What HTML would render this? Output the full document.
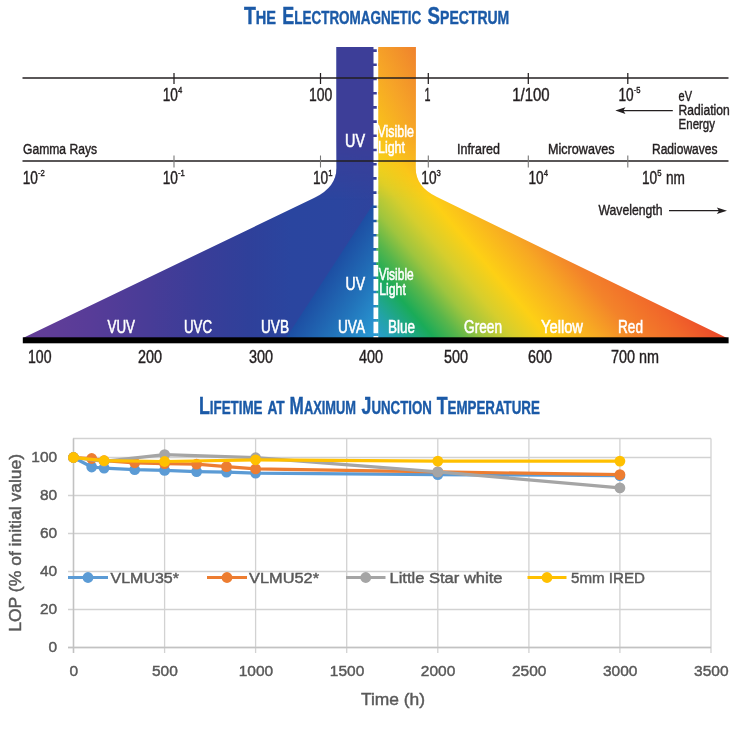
<!DOCTYPE html>
<html lang="en"><head><meta charset="utf-8"><title>Electromagnetic Spectrum</title>
<style>html,body{margin:0;padding:0;background:#fff;font-family:"Liberation Sans",sans-serif}svg{display:block;filter:blur(0.45px)}</style></head>
<body>
<svg width="750" height="734" viewBox="0 0 750 734" font-family="Liberation Sans, sans-serif">
<defs>
<linearGradient id="gR" gradientUnits="userSpaceOnUse" x1="375" y1="338" x2="607.2" y2="140.6">
<stop offset="0" stop-color="#2a9bd2"/>
<stop offset="0.0625" stop-color="#22a3a8"/>
<stop offset="0.1475" stop-color="#1aab58"/>
<stop offset="0.2125" stop-color="#58b64b"/>
<stop offset="0.275" stop-color="#9fc53e"/>
<stop offset="0.35" stop-color="#d6ce2d"/>
<stop offset="0.435" stop-color="#fdd015"/>
<stop offset="0.5625" stop-color="#f7a823"/>
<stop offset="0.655" stop-color="#f3832a"/>
<stop offset="0.775" stop-color="#f1672a"/>
<stop offset="0.8825" stop-color="#eb472a"/>
</linearGradient>
<linearGradient id="gL" gradientUnits="userSpaceOnUse" x1="22" y1="0" x2="376" y2="0">
<stop offset="0" stop-color="#653e98"/>
<stop offset="0.19" stop-color="#583c98"/>
<stop offset="0.36" stop-color="#483c97"/>
<stop offset="0.50" stop-color="#3a3d98"/>
<stop offset="0.64" stop-color="#2f409a"/>
<stop offset="0.76" stop-color="#2a459f"/>
<stop offset="0.9" stop-color="#2b459f"/>
<stop offset="1" stop-color="#2f439d"/>
</linearGradient>
<linearGradient id="gT" gradientUnits="userSpaceOnUse" x1="329" y1="272" x2="392" y2="313">
<stop offset="0" stop-color="#1d4ea3"/>
<stop offset="0.5" stop-color="#2273ba"/>
<stop offset="1" stop-color="#2a9dd6"/>
</linearGradient>
<linearGradient id="gN" gradientUnits="userSpaceOnUse" x1="378" y1="165" x2="463.6" y2="121.5">
<stop offset="0" stop-color="#fad015"/>
<stop offset="0.5" stop-color="#f6a527"/>
<stop offset="1" stop-color="#ee7b2e"/>
</linearGradient>
<linearGradient id="gM" gradientUnits="userSpaceOnUse" x1="0" y1="140" x2="0" y2="200">
<stop offset="0" stop-color="#fff"/>
<stop offset="1" stop-color="#000"/>
</linearGradient>
<linearGradient id="gS" gradientUnits="userSpaceOnUse" x1="0" y1="185" x2="0" y2="255">
<stop offset="0" stop-color="#000"/>
<stop offset="1" stop-color="#fff"/>
</linearGradient>
<mask id="mS" maskUnits="userSpaceOnUse" x="370" y="180" width="12" height="165"><rect x="370" y="180" width="12" height="165" fill="url(#gS)"/></mask>
<mask id="mL" maskUnits="userSpaceOnUse" x="280" y="40" width="100" height="190"><rect x="280" y="40" width="100" height="190" fill="url(#gM)"/></mask>
<mask id="mN" maskUnits="userSpaceOnUse" x="370" y="40" width="120" height="180"><rect x="370" y="40" width="120" height="180" fill="url(#gM)"/></mask>
</defs>
<rect width="750" height="734" fill="#fff"/>

<path d="M336.5,47 L376.5,47 L376.5,340 L23,340 L23,338 L315,197.5 Q336.5,187 336.5,168 Z" fill="url(#gL)"/>
<path d="M336.5,47 L376.5,47 L376.5,225 L280,225 L315,197 Q336.5,187 336.5,168 Z" fill="#3d3e98" mask="url(#mL)"/>
<path d="M376.5,199 L376.5,338 L286,338 Z" fill="url(#gT)"/>
<path d="M378.2,47 L415.7,47 L415.7,168 Q415.7,187 437,197 L727,338 L727,340 L378.2,340 Z" fill="url(#gR)"/>
<path d="M378.2,47 L415.7,47 L415.7,168 Q415.7,187 437,197 L480,218 L378.2,218 Z" fill="url(#gN)" mask="url(#mN)"/>
<rect x="376.3" y="185" width="2.2" height="153" fill="url(#gR)" mask="url(#mS)"/>
<line x1="375.85" y1="47" x2="375.85" y2="338" stroke="#fff" stroke-width="4.7" stroke-dasharray="11.6 2.6" stroke-dashoffset="9.3"/>
<rect x="22.8" y="337.3" width="705.8" height="6" fill="#000"/>
<line x1="22.5" y1="77.9" x2="728.5" y2="77.9" stroke="#231f20" stroke-width="1.45"/>
<line x1="22.5" y1="161" x2="728.5" y2="161" stroke="#231f20" stroke-width="1.45"/>
<line x1="174" y1="73" x2="174" y2="84" stroke="#231f20" stroke-width="1.25"/>
<line x1="320.5" y1="73" x2="320.5" y2="84" stroke="#231f20" stroke-width="1.25"/>
<line x1="428.3" y1="73" x2="428.3" y2="84" stroke="#231f20" stroke-width="1.25"/>
<line x1="528.3" y1="73" x2="528.3" y2="84" stroke="#231f20" stroke-width="1.25"/>
<line x1="627.8" y1="73" x2="627.8" y2="84" stroke="#231f20" stroke-width="1.25"/>
<line x1="174" y1="155.5" x2="174" y2="167.5" stroke="#777" stroke-width="1.1"/>
<line x1="320.5" y1="155.5" x2="320.5" y2="167.5" stroke="#777" stroke-width="1.1"/>
<line x1="428.3" y1="155.5" x2="428.3" y2="167.5" stroke="#777" stroke-width="1.1"/>
<line x1="528.3" y1="155.5" x2="528.3" y2="167.5" stroke="#777" stroke-width="1.1"/>
<line x1="627.8" y1="155.5" x2="627.8" y2="167.5" stroke="#777" stroke-width="1.1"/>
<text x="243.9" y="24.2" font-weight="bold" fill="#1b5aa7" stroke="#1b5aa7" stroke-width="0.4" textLength="32.1" lengthAdjust="spacingAndGlyphs"><tspan font-size="24">T</tspan><tspan font-size="18">HE</tspan></text>
<text x="282.3" y="24.2" font-weight="bold" fill="#1b5aa7" stroke="#1b5aa7" stroke-width="0.4" textLength="139.0" lengthAdjust="spacingAndGlyphs"><tspan font-size="24">E</tspan><tspan font-size="18">LECTROMAGNETIC</tspan></text>
<text x="427.6" y="24.2" font-weight="bold" fill="#1b5aa7" stroke="#1b5aa7" stroke-width="0.4" textLength="81.7" lengthAdjust="spacingAndGlyphs"><tspan font-size="24">S</tspan><tspan font-size="18">PECTRUM</tspan></text>
<text x="162.7" y="100.7" font-size="17.5" fill="#231f20" text-anchor="start" font-weight="normal" textLength="15.2" lengthAdjust="spacingAndGlyphs"  stroke="#231f20" stroke-width="0.42">10</text>
<text x="178.0" y="93.3" font-size="9.8" fill="#231f20" text-anchor="start" font-weight="normal" textLength="4.3" lengthAdjust="spacingAndGlyphs"  stroke="#231f20" stroke-width="0.42">4</text>
<text x="309" y="100.7" font-size="17.5" fill="#231f20" text-anchor="start" font-weight="normal" textLength="23.3" lengthAdjust="spacingAndGlyphs"  stroke="#231f20" stroke-width="0.42">100</text>
<text x="424.5" y="100.7" font-size="17.5" fill="#231f20" text-anchor="start" font-weight="normal" textLength="6" lengthAdjust="spacingAndGlyphs"  stroke="#231f20" stroke-width="0.42">1</text>
<text x="512.2" y="100.7" font-size="17.5" fill="#231f20" text-anchor="start" font-weight="normal" textLength="37.4" lengthAdjust="spacingAndGlyphs"  stroke="#231f20" stroke-width="0.42">1/100</text>
<text x="618.4" y="100.7" font-size="17.5" fill="#231f20" text-anchor="start" font-weight="normal" textLength="15.2" lengthAdjust="spacingAndGlyphs"  stroke="#231f20" stroke-width="0.42">10</text>
<text x="633.7" y="93.3" font-size="9.8" fill="#231f20" text-anchor="start" font-weight="normal" textLength="6.8" lengthAdjust="spacingAndGlyphs"  stroke="#231f20" stroke-width="0.42">-5</text>
<text x="678.6" y="101" font-size="14" fill="#231f20" text-anchor="start" font-weight="normal" textLength="13.4" lengthAdjust="spacingAndGlyphs"  stroke="#231f20" stroke-width="0.42">eV</text>
<text x="678.6" y="115" font-size="14" fill="#231f20" text-anchor="start" font-weight="normal" textLength="51" lengthAdjust="spacingAndGlyphs"  stroke="#231f20" stroke-width="0.42">Radiation</text>
<text x="678.6" y="128.8" font-size="14" fill="#231f20" text-anchor="start" font-weight="normal" textLength="36.4" lengthAdjust="spacingAndGlyphs"  stroke="#231f20" stroke-width="0.42">Energy</text>
<line x1="622" y1="110.6" x2="672.8" y2="110.6" stroke="#231f20" stroke-width="1.2"/><path d="M615.3,110.6 L625.5,107.3 L623.3,110.6 L625.5,113.9 Z" fill="#231f20"/>
<text x="23" y="153.5" font-size="14" fill="#231f20" text-anchor="start" font-weight="normal" textLength="74" lengthAdjust="spacingAndGlyphs"  stroke="#231f20" stroke-width="0.42">Gamma Rays</text>
<text x="457" y="154" font-size="14" fill="#231f20" text-anchor="start" font-weight="normal" textLength="43" lengthAdjust="spacingAndGlyphs"  stroke="#231f20" stroke-width="0.42">Infrared</text>
<text x="548" y="154" font-size="14" fill="#231f20" text-anchor="start" font-weight="normal" textLength="66.5" lengthAdjust="spacingAndGlyphs"  stroke="#231f20" stroke-width="0.42">Microwaves</text>
<text x="652" y="154" font-size="14" fill="#231f20" text-anchor="start" font-weight="normal" textLength="65.5" lengthAdjust="spacingAndGlyphs"  stroke="#231f20" stroke-width="0.42">Radiowaves</text>
<text x="22.7" y="183.5" font-size="17.5" fill="#231f20" text-anchor="start" font-weight="normal" textLength="15.2" lengthAdjust="spacingAndGlyphs"  stroke="#231f20" stroke-width="0.42">10</text>
<text x="38.0" y="176.1" font-size="9.8" fill="#231f20" text-anchor="start" font-weight="normal" textLength="6.8" lengthAdjust="spacingAndGlyphs"  stroke="#231f20" stroke-width="0.42">-2</text>
<text x="162.7" y="183.5" font-size="17.5" fill="#231f20" text-anchor="start" font-weight="normal" textLength="15.2" lengthAdjust="spacingAndGlyphs"  stroke="#231f20" stroke-width="0.42">10</text>
<text x="178.0" y="176.1" font-size="9.8" fill="#231f20" text-anchor="start" font-weight="normal" textLength="6.8" lengthAdjust="spacingAndGlyphs"  stroke="#231f20" stroke-width="0.42">-1</text>
<text x="313" y="183.5" font-size="17.5" fill="#231f20" text-anchor="start" font-weight="normal" textLength="15.2" lengthAdjust="spacingAndGlyphs"  stroke="#231f20" stroke-width="0.42">10</text>
<text x="328.3" y="176.1" font-size="9.8" fill="#231f20" text-anchor="start" font-weight="normal" textLength="4.3" lengthAdjust="spacingAndGlyphs"  stroke="#231f20" stroke-width="0.42">1</text>
<text x="421.3" y="183.5" font-size="17.5" fill="#231f20" text-anchor="start" font-weight="normal" textLength="15.2" lengthAdjust="spacingAndGlyphs"  stroke="#231f20" stroke-width="0.42">10</text>
<text x="436.6" y="176.1" font-size="9.8" fill="#231f20" text-anchor="start" font-weight="normal" textLength="4.3" lengthAdjust="spacingAndGlyphs"  stroke="#231f20" stroke-width="0.42">3</text>
<text x="528.5" y="183.5" font-size="17.5" fill="#231f20" text-anchor="start" font-weight="normal" textLength="15.2" lengthAdjust="spacingAndGlyphs"  stroke="#231f20" stroke-width="0.42">10</text>
<text x="543.8" y="176.1" font-size="9.8" fill="#231f20" text-anchor="start" font-weight="normal" textLength="4.3" lengthAdjust="spacingAndGlyphs"  stroke="#231f20" stroke-width="0.42">4</text>
<text x="642" y="183.5" font-size="17.5" fill="#231f20" text-anchor="start" font-weight="normal" textLength="15.2" lengthAdjust="spacingAndGlyphs"  stroke="#231f20" stroke-width="0.42">10</text>
<text x="657.3" y="176.1" font-size="9.8" fill="#231f20" text-anchor="start" font-weight="normal" textLength="4.3" lengthAdjust="spacingAndGlyphs"  stroke="#231f20" stroke-width="0.42">5</text>
<text x="665.9" y="183.5" font-size="17.5" fill="#231f20" text-anchor="start" font-weight="normal" textLength="19.0" lengthAdjust="spacingAndGlyphs"  stroke="#231f20" stroke-width="0.42">nm</text>
<text x="598.5" y="215" font-size="14.5" fill="#231f20" text-anchor="start" font-weight="normal" textLength="64" lengthAdjust="spacingAndGlyphs"  stroke="#231f20" stroke-width="0.42">Wavelength</text>
<line x1="669" y1="210.7" x2="720" y2="210.7" stroke="#231f20" stroke-width="1.2"/><path d="M727,210.7 L716.8,207.4 L719,210.7 L716.8,214 Z" fill="#231f20"/>
<text x="345" y="146.7" font-size="17.5" fill="#fff" text-anchor="start" font-weight="normal" textLength="20" lengthAdjust="spacingAndGlyphs"  stroke="#fff" stroke-width="0.55">UV</text>
<text x="377.5" y="137.3" font-size="17" fill="#fff" text-anchor="start" font-weight="normal" textLength="36.5" lengthAdjust="spacingAndGlyphs"  stroke="#fff" stroke-width="0.55">Visible</text>
<text x="378" y="152.7" font-size="17" fill="#fff" text-anchor="start" font-weight="normal" textLength="27" lengthAdjust="spacingAndGlyphs"  stroke="#fff" stroke-width="0.55">Light</text>
<text x="345.5" y="289.5" font-size="17.5" fill="#fff" text-anchor="start" font-weight="normal" textLength="19.5" lengthAdjust="spacingAndGlyphs"  stroke="#fff" stroke-width="0.55">UV</text>
<text x="378.7" y="279.7" font-size="17" fill="#fff" text-anchor="start" font-weight="normal" textLength="35" lengthAdjust="spacingAndGlyphs"  stroke="#fff" stroke-width="0.55">Visible</text>
<text x="379.3" y="295" font-size="17" fill="#fff" text-anchor="start" font-weight="normal" textLength="26.5" lengthAdjust="spacingAndGlyphs"  stroke="#fff" stroke-width="0.55">Light</text>
<text x="107.5" y="332.5" font-size="17.5" fill="#fff" text-anchor="start" font-weight="normal" textLength="27.5" lengthAdjust="spacingAndGlyphs"  stroke="#fff" stroke-width="0.55">VUV</text>
<text x="184" y="332.5" font-size="17.5" fill="#fff" text-anchor="start" font-weight="normal" textLength="28" lengthAdjust="spacingAndGlyphs"  stroke="#fff" stroke-width="0.55">UVC</text>
<text x="261" y="332.5" font-size="17.5" fill="#fff" text-anchor="start" font-weight="normal" textLength="28" lengthAdjust="spacingAndGlyphs"  stroke="#fff" stroke-width="0.55">UVB</text>
<text x="338" y="332.5" font-size="17.5" fill="#fff" text-anchor="start" font-weight="normal" textLength="27" lengthAdjust="spacingAndGlyphs"  stroke="#fff" stroke-width="0.55">UVA</text>
<text x="388" y="332.5" font-size="17.5" fill="#fff" text-anchor="start" font-weight="normal" textLength="27" lengthAdjust="spacingAndGlyphs"  stroke="#fff" stroke-width="0.55">Blue</text>
<text x="464" y="332.5" font-size="17.5" fill="#fff" text-anchor="start" font-weight="normal" textLength="38" lengthAdjust="spacingAndGlyphs"  stroke="#fff" stroke-width="0.55">Green</text>
<text x="541" y="332.5" font-size="17.5" fill="#fff" text-anchor="start" font-weight="normal" textLength="42" lengthAdjust="spacingAndGlyphs"  stroke="#fff" stroke-width="0.55">Yellow</text>
<text x="618" y="332.5" font-size="17.5" fill="#fff" text-anchor="start" font-weight="normal" textLength="25" lengthAdjust="spacingAndGlyphs"  stroke="#fff" stroke-width="0.55">Red</text>
<text x="28" y="363" font-size="17.5" fill="#231f20" text-anchor="start" font-weight="normal" textLength="23.5" lengthAdjust="spacingAndGlyphs"  stroke="#231f20" stroke-width="0.42">100</text>
<text x="138" y="363" font-size="17.5" fill="#231f20" text-anchor="start" font-weight="normal" textLength="24" lengthAdjust="spacingAndGlyphs"  stroke="#231f20" stroke-width="0.42">200</text>
<text x="249" y="363" font-size="17.5" fill="#231f20" text-anchor="start" font-weight="normal" textLength="24" lengthAdjust="spacingAndGlyphs"  stroke="#231f20" stroke-width="0.42">300</text>
<text x="359" y="363" font-size="17.5" fill="#231f20" text-anchor="start" font-weight="normal" textLength="24" lengthAdjust="spacingAndGlyphs"  stroke="#231f20" stroke-width="0.42">400</text>
<text x="444" y="363" font-size="17.5" fill="#231f20" text-anchor="start" font-weight="normal" textLength="24" lengthAdjust="spacingAndGlyphs"  stroke="#231f20" stroke-width="0.42">500</text>
<text x="528" y="363" font-size="17.5" fill="#231f20" text-anchor="start" font-weight="normal" textLength="24" lengthAdjust="spacingAndGlyphs"  stroke="#231f20" stroke-width="0.42">600</text>
<text x="611" y="363" font-size="17.5" fill="#231f20" text-anchor="start" font-weight="normal" textLength="48" lengthAdjust="spacingAndGlyphs"  stroke="#231f20" stroke-width="0.42">700 nm</text>
<text x="198.9" y="414.2" font-weight="bold" fill="#1b5aa7" stroke="#1b5aa7" stroke-width="0.4" textLength="63.6" lengthAdjust="spacingAndGlyphs"><tspan font-size="24">L</tspan><tspan font-size="18">IFETIME</tspan></text>
<text x="267.4" y="414.2" font-weight="bold" fill="#1b5aa7" stroke="#1b5aa7" stroke-width="0.4" textLength="17.2" lengthAdjust="spacingAndGlyphs"><tspan font-size="24"></tspan><tspan font-size="18">AT</tspan></text>
<text x="289.6" y="414.2" font-weight="bold" fill="#1b5aa7" stroke="#1b5aa7" stroke-width="0.4" textLength="66.4" lengthAdjust="spacingAndGlyphs"><tspan font-size="24">M</tspan><tspan font-size="18">AXIMUM</tspan></text>
<text x="361.6" y="414.2" font-weight="bold" fill="#1b5aa7" stroke="#1b5aa7" stroke-width="0.4" textLength="70.2" lengthAdjust="spacingAndGlyphs"><tspan font-size="24">J</tspan><tspan font-size="18">UNCTION</tspan></text>
<text x="436.7" y="414.2" font-weight="bold" fill="#1b5aa7" stroke="#1b5aa7" stroke-width="0.4" textLength="103.1" lengthAdjust="spacingAndGlyphs"><tspan font-size="24">T</tspan><tspan font-size="18">EMPERATURE</tspan></text>
<line x1="73.5" y1="438.5" x2="73.5" y2="653" stroke="#d2d2d2" stroke-width="1.3"/>
<line x1="164.6" y1="438.5" x2="164.6" y2="653" stroke="#d2d2d2" stroke-width="1.3"/>
<line x1="255.6" y1="438.5" x2="255.6" y2="653" stroke="#d2d2d2" stroke-width="1.3"/>
<line x1="346.7" y1="438.5" x2="346.7" y2="653" stroke="#d2d2d2" stroke-width="1.3"/>
<line x1="437.8" y1="438.5" x2="437.8" y2="653" stroke="#d2d2d2" stroke-width="1.3"/>
<line x1="528.9" y1="438.5" x2="528.9" y2="653" stroke="#d2d2d2" stroke-width="1.3"/>
<line x1="619.9" y1="438.5" x2="619.9" y2="653" stroke="#d2d2d2" stroke-width="1.3"/>
<line x1="711.0" y1="438.5" x2="711.0" y2="653" stroke="#d2d2d2" stroke-width="1.3"/>
<line x1="68" y1="647.5" x2="711" y2="647.5" stroke="#d2d2d2" stroke-width="1.3"/>
<line x1="68" y1="609.5" x2="711" y2="609.5" stroke="#d2d2d2" stroke-width="1.3"/>
<line x1="68" y1="571.5" x2="711" y2="571.5" stroke="#d2d2d2" stroke-width="1.3"/>
<line x1="68" y1="533.5" x2="711" y2="533.5" stroke="#d2d2d2" stroke-width="1.3"/>
<line x1="68" y1="495.5" x2="711" y2="495.5" stroke="#d2d2d2" stroke-width="1.3"/>
<line x1="68" y1="457.5" x2="711" y2="457.5" stroke="#d2d2d2" stroke-width="1.3"/>
<line x1="73" y1="438.5" x2="711" y2="438.5" stroke="#d2d2d2" stroke-width="1.3"/>
<line x1="68" y1="647.5" x2="711" y2="647.5" stroke="#c2c2c2" stroke-width="1.4"/>
<line x1="73.5" y1="438.5" x2="73.5" y2="653" stroke="#c2c2c2" stroke-width="1.4"/>
<text x="57.2" y="652.4" font-size="15.5" fill="#595959" text-anchor="end" font-weight="normal"  stroke="#595959" stroke-width="0.45">0</text>
<text x="57.2" y="614.4" font-size="15.5" fill="#595959" text-anchor="end" font-weight="normal"  stroke="#595959" stroke-width="0.45">20</text>
<text x="57.2" y="576.4" font-size="15.5" fill="#595959" text-anchor="end" font-weight="normal"  stroke="#595959" stroke-width="0.45">40</text>
<text x="57.2" y="538.4" font-size="15.5" fill="#595959" text-anchor="end" font-weight="normal"  stroke="#595959" stroke-width="0.45">60</text>
<text x="57.2" y="500.4" font-size="15.5" fill="#595959" text-anchor="end" font-weight="normal"  stroke="#595959" stroke-width="0.45">80</text>
<text x="57.2" y="462.4" font-size="15.5" fill="#595959" text-anchor="end" font-weight="normal"  stroke="#595959" stroke-width="0.45">100</text>
<text x="73.8" y="676.2" font-size="15.5" fill="#595959" text-anchor="middle" font-weight="normal"  stroke="#595959" stroke-width="0.45">0</text>
<text x="164.87142857142857" y="676.2" font-size="15.5" fill="#595959" text-anchor="middle" font-weight="normal"  stroke="#595959" stroke-width="0.45">500</text>
<text x="255.94285714285715" y="676.2" font-size="15.5" fill="#595959" text-anchor="middle" font-weight="normal"  stroke="#595959" stroke-width="0.45">1000</text>
<text x="347.01428571428573" y="676.2" font-size="15.5" fill="#595959" text-anchor="middle" font-weight="normal"  stroke="#595959" stroke-width="0.45">1500</text>
<text x="438.0857142857143" y="676.2" font-size="15.5" fill="#595959" text-anchor="middle" font-weight="normal"  stroke="#595959" stroke-width="0.45">2000</text>
<text x="529.1571428571428" y="676.2" font-size="15.5" fill="#595959" text-anchor="middle" font-weight="normal"  stroke="#595959" stroke-width="0.45">2500</text>
<text x="620.2285714285714" y="676.2" font-size="15.5" fill="#595959" text-anchor="middle" font-weight="normal"  stroke="#595959" stroke-width="0.45">3000</text>
<text x="711.3" y="676.2" font-size="15.5" fill="#595959" text-anchor="middle" font-weight="normal"  stroke="#595959" stroke-width="0.45">3500</text>
<text x="393" y="705.3" font-size="17.4" fill="#595959" text-anchor="middle" font-weight="normal"  stroke="#595959" stroke-width="0.45">Time (h)</text>
<text x="0" y="0" font-size="17.4" fill="#595959" stroke="#595959" stroke-width="0.45" text-anchor="middle" textLength="178" lengthAdjust="spacingAndGlyphs" transform="translate(20.5,542.8) rotate(-90)">LOP (% of initial value)</text>
<polyline points="73.5,457.5 91.7,467.0 104.1,468.1 134.7,469.7 164.6,470.4 196.6,471.6 226.5,472.1 255.6,473.1 437.8,474.6 619.9,475.7" fill="none" stroke="#5b9bd5" stroke-width="3.2" stroke-linejoin="round" stroke-linecap="round"/>
<circle cx="73.5" cy="457.5" r="5.4" fill="#5b9bd5"/>
<circle cx="91.7" cy="467.0" r="5.4" fill="#5b9bd5"/>
<circle cx="104.1" cy="468.1" r="5.4" fill="#5b9bd5"/>
<circle cx="134.7" cy="469.7" r="5.4" fill="#5b9bd5"/>
<circle cx="164.6" cy="470.4" r="5.4" fill="#5b9bd5"/>
<circle cx="196.6" cy="471.6" r="5.4" fill="#5b9bd5"/>
<circle cx="226.5" cy="472.1" r="5.4" fill="#5b9bd5"/>
<circle cx="255.6" cy="473.1" r="5.4" fill="#5b9bd5"/>
<circle cx="437.8" cy="474.6" r="5.4" fill="#5b9bd5"/>
<circle cx="619.9" cy="475.7" r="5.4" fill="#5b9bd5"/>
<polyline points="73.5,457.5 91.7,458.5 104.1,460.7 134.7,462.8 164.6,463.6 196.6,464.1 226.5,466.6 255.6,468.9 437.8,471.9 619.9,474.6" fill="none" stroke="#ed7d31" stroke-width="3.2" stroke-linejoin="round" stroke-linecap="round"/>
<circle cx="73.5" cy="457.5" r="5.4" fill="#ed7d31"/>
<circle cx="91.7" cy="458.5" r="5.4" fill="#ed7d31"/>
<circle cx="104.1" cy="460.7" r="5.4" fill="#ed7d31"/>
<circle cx="134.7" cy="462.8" r="5.4" fill="#ed7d31"/>
<circle cx="164.6" cy="463.6" r="5.4" fill="#ed7d31"/>
<circle cx="196.6" cy="464.1" r="5.4" fill="#ed7d31"/>
<circle cx="226.5" cy="466.6" r="5.4" fill="#ed7d31"/>
<circle cx="255.6" cy="468.9" r="5.4" fill="#ed7d31"/>
<circle cx="437.8" cy="471.9" r="5.4" fill="#ed7d31"/>
<circle cx="619.9" cy="474.6" r="5.4" fill="#ed7d31"/>
<polyline points="73.5,457.5 104.1,461.3 164.6,454.6 255.6,457.7 437.8,471.9 619.9,487.9" fill="none" stroke="#a5a5a5" stroke-width="3.2" stroke-linejoin="round" stroke-linecap="round"/>
<circle cx="73.5" cy="457.5" r="5.4" fill="#a5a5a5"/>
<circle cx="104.1" cy="461.3" r="5.4" fill="#a5a5a5"/>
<circle cx="164.6" cy="454.6" r="5.4" fill="#a5a5a5"/>
<circle cx="255.6" cy="457.7" r="5.4" fill="#a5a5a5"/>
<circle cx="437.8" cy="471.9" r="5.4" fill="#a5a5a5"/>
<circle cx="619.9" cy="487.9" r="5.4" fill="#a5a5a5"/>
<polyline points="73.5,457.5 104.1,460.7 164.6,461.5 255.6,459.8 437.8,461.1 619.9,461.1" fill="none" stroke="#ffc000" stroke-width="3.2" stroke-linejoin="round" stroke-linecap="round"/>
<circle cx="73.5" cy="457.5" r="5.4" fill="#ffc000"/>
<circle cx="104.1" cy="460.7" r="5.4" fill="#ffc000"/>
<circle cx="164.6" cy="461.5" r="5.4" fill="#ffc000"/>
<circle cx="255.6" cy="459.8" r="5.4" fill="#ffc000"/>
<circle cx="437.8" cy="461.1" r="5.4" fill="#ffc000"/>
<circle cx="619.9" cy="461.1" r="5.4" fill="#ffc000"/>
<line x1="68" y1="577.5" x2="108" y2="577.5" stroke="#5b9bd5" stroke-width="3.2"/><circle cx="88.0" cy="577.5" r="5.4" fill="#5b9bd5"/>
<text x="110.5" y="582.8" font-size="15.5" fill="#595959" text-anchor="start" font-weight="normal" textLength="68.5" lengthAdjust="spacingAndGlyphs"  stroke="#595959" stroke-width="0.45">VLMU35*</text>
<line x1="207" y1="577.5" x2="247" y2="577.5" stroke="#ed7d31" stroke-width="3.2"/><circle cx="227.0" cy="577.5" r="5.4" fill="#ed7d31"/>
<text x="249" y="582.8" font-size="15.5" fill="#595959" text-anchor="start" font-weight="normal" textLength="70" lengthAdjust="spacingAndGlyphs"  stroke="#595959" stroke-width="0.45">VLMU52*</text>
<line x1="346" y1="577.5" x2="385.5" y2="577.5" stroke="#a5a5a5" stroke-width="3.2"/><circle cx="365.75" cy="577.5" r="5.4" fill="#a5a5a5"/>
<text x="389.5" y="582.8" font-size="15.5" fill="#595959" text-anchor="start" font-weight="normal" textLength="113" lengthAdjust="spacingAndGlyphs"  stroke="#595959" stroke-width="0.45">Little Star white</text>
<line x1="527.5" y1="577.5" x2="566.5" y2="577.5" stroke="#ffc000" stroke-width="3.2"/><circle cx="547.0" cy="577.5" r="5.4" fill="#ffc000"/>
<text x="571" y="582.8" font-size="15.5" fill="#595959" text-anchor="start" font-weight="normal" textLength="74" lengthAdjust="spacingAndGlyphs"  stroke="#595959" stroke-width="0.45">5mm IRED</text>
</svg>
</body></html>
